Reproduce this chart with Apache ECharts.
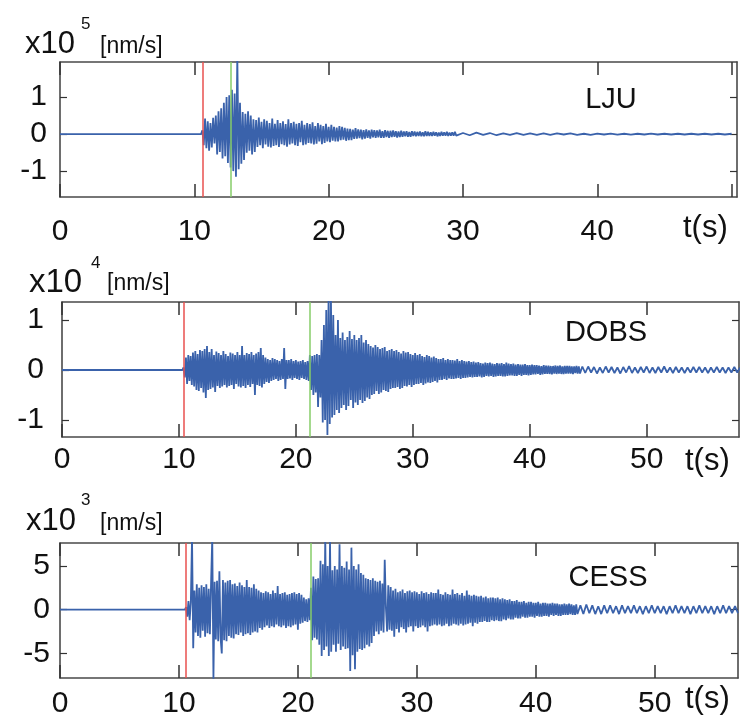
<!DOCTYPE html>
<html>
<head>
<meta charset="utf-8">
<title>LJU / DOBS / CESS velocity records</title>
<script src="https://cdn.jsdelivr.net/npm/echarts@6/dist/echarts.min.js"></script>
<style>
    html, body { margin: 0; background: #fff; }
    #chart { width: 740px; height: 720px; }
</style>
</head>
<body>
<div id="chart"></div>
<script>
/* stations, exponent of the y scale, picks (s) */
var stations = ['LJU', 'DOBS', 'CESS'];
var exponents = ['5', '4', '3'];
var redPicks = [10.63, 10.4, 10.55];
var greenPicks = [12.7, 21.2, 21.1];

/* tick values and tick labels */
var xTicks = [0, 10, 20, 30, 40, 50];
var xLabelsLju = [0, 10, 20, 30, 40];
var xLabels = [0, 10, 20, 30, 40, 50];
var yTicksLju = [-1, 0, 1];
var yTicksDobs = [-1, 0, 1];
var yTicksCess = [-5, 0, 5];

/* LJU, x10^5 nm/s: burst from 10.6 s every 0.1 s, tail from 30 s every 0.5 s */
var ljuOnset = 10.6, ljuStep = 0.1, ljuTailStart = 30, ljuTailStep = 0.5;
var ljuBurst = [
    0.1, -0.3, 0.42, -0.38, 0.35, -0.45, 0.3, -0.36, 0.44, -0.25,
    0.5, -0.55, 0.62, -0.48, 0.7, -0.66, 0.85, -0.6, 1.0, -0.78,
    1.05, -0.9, 1.2, -1.0, 1.1, -1.15, 2.1, -0.95, 0.85, -0.8,
    0.6, -0.7, 0.55, -0.5, 0.62, -0.45, 0.5, -0.55, 0.4, -0.48,
    0.38, -0.35, 0.45, -0.3, 0.33, -0.38, 0.4, -0.28, 0.36, -0.34,
    0.3, -0.36, 0.42, -0.32, 0.28, -0.3, 0.38, -0.35, 0.3, -0.27,
    0.35, -0.3, 0.27, -0.34, 0.4, -0.28, 0.3, -0.25, 0.33, -0.3,
    0.28, -0.32, 0.3, -0.22, 0.36, -0.3, 0.25, -0.28, 0.3, -0.24,
    0.27, -0.25, 0.32, -0.28, 0.22, -0.26, 0.3, -0.2, 0.25, -0.27,
    0.22, -0.24, 0.28, -0.2, 0.2, -0.22, 0.25, -0.18, 0.2, -0.2,
    0.18, -0.2, 0.22, -0.16, 0.2, -0.15, 0.17, -0.18, 0.15, -0.16,
    0.14, -0.16, 0.12, -0.13, 0.16, -0.12, 0.13, -0.11, 0.12, -0.14,
    0.11, -0.12, 0.13, -0.1, 0.1, -0.12, 0.12, -0.09, 0.11, -0.1,
    0.1, -0.09, 0.12, -0.1, 0.08, -0.1, 0.11, -0.08, 0.09, -0.1,
    0.09, -0.08, 0.1, -0.07, 0.08, -0.09, 0.07, -0.08, 0.09, -0.07,
    0.07, -0.06, 0.08, -0.07, 0.06, -0.07, 0.08, -0.05, 0.07, -0.06,
    0.06, -0.05, 0.07, -0.06, 0.05, -0.06, 0.08, -0.05, 0.06, -0.05,
    0.05, -0.05, 0.06, -0.04, 0.05, -0.06, 0.04, -0.05, 0.06, -0.04,
    0.05, -0.04, 0.06, -0.05, 0.04, -0.04, 0.05, -0.04, 0.06, -0.04
];
var ljuTail = [
    0.03, -0.03, 0.04, -0.02, 0.03, -0.03, 0.02, -0.02, 0.03, -0.02,
    0.02, -0.02, 0.02, -0.02, 0.02, -0.01, 0.02, -0.02, 0.01, -0.02,
    0.015, -0.01, 0.015, -0.015, 0.01, -0.015, 0.01, -0.01, 0.015, -0.01,
    0.01, -0.01, 0.01, -0.01, 0.01, -0.01, 0.01, -0.01, 0.01, -0.01,
    0.01
];

/* DOBS, x10^4 nm/s: burst from 10.4 s every 0.1 s, tail from 44.5 s every 0.25 s */
var dobsOnset = 10.4, dobsStep = 0.1, dobsTailStart = 44.5, dobsTailStep = 0.25;
var dobsBurst = [
    0.05, -0.15, 0.25, -0.28, 0.3, -0.22, 0.28, -0.3, 0.35, -0.33,
    0.38, -0.4, 0.32, -0.42, 0.4, -0.36, 0.38, -0.45, 0.42, -0.56,
    0.48, -0.4, 0.36, -0.38, 0.42, -0.35, 0.3, -0.44, 0.37, -0.32,
    0.34, -0.36, 0.3, -0.33, 0.38, -0.3, 0.32, -0.35, 0.28, -0.32,
    0.35, -0.3, 0.33, -0.38, 0.3, -0.28, 0.36, -0.33, 0.3, -0.35,
    0.48, -0.32, 0.3, -0.36, 0.34, -0.3, 0.32, -0.34, 0.36, -0.28,
    0.3, -0.5, 0.33, -0.3, 0.36, -0.32, 0.44, -0.35, 0.3, -0.28,
    0.25, -0.24, 0.22, -0.26, 0.2, -0.22, 0.24, -0.2, 0.22, -0.18,
    0.2, -0.22, 0.18, -0.2, 0.22, -0.18, 0.44, -0.38, 0.2, -0.18,
    0.2, -0.17, 0.22, -0.2, 0.18, -0.16, 0.2, -0.18, 0.17, -0.2,
    0.18, -0.16, 0.2, -0.18, 0.16, -0.2, 0.18, -0.22, 0.3, -0.4,
    0.28, -0.5, 0.3, -0.45, 0.32, -0.74, 0.3, -0.55, 0.6, -1.05,
    0.9, -1.0, 1.2, -1.3, 1.5, -1.08, 1.45, -0.95, 1.1, -0.9,
    0.7, -0.8, 1.0, -0.86, 0.64, -0.76, 0.75, -0.7, 0.6, -0.8,
    0.66, -0.72, 0.78, -0.6, 0.62, -0.76, 0.7, -0.65, 0.6, -0.7,
    0.64, -0.6, 0.7, -0.66, 0.55, -0.62, 0.6, -0.55, 0.52, -0.58,
    0.48, -0.5, 0.45, -0.48, 0.5, -0.42, 0.46, -0.48, 0.42, -0.45,
    0.44, -0.4, 0.46, -0.42, 0.38, -0.44, 0.4, -0.38, 0.42, -0.36,
    0.38, -0.36, 0.4, -0.34, 0.36, -0.38, 0.33, -0.36, 0.38, -0.32,
    0.35, -0.33, 0.36, -0.3, 0.32, -0.34, 0.3, -0.3, 0.34, -0.28,
    0.3, -0.28, 0.32, -0.26, 0.28, -0.3, 0.26, -0.27, 0.3, -0.25,
    0.28, -0.26, 0.25, -0.24, 0.27, -0.22, 0.24, -0.25, 0.22, -0.2,
    0.22, -0.2, 0.24, -0.18, 0.2, -0.2, 0.22, -0.17, 0.2, -0.18,
    0.2, -0.18, 0.19, -0.17, 0.22, -0.16, 0.18, -0.18, 0.2, -0.16,
    0.18, -0.16, 0.17, -0.15, 0.18, -0.14, 0.16, -0.15, 0.17, -0.14,
    0.15, -0.14, 0.16, -0.13, 0.14, -0.15, 0.13, -0.14, 0.15, -0.12,
    0.14, -0.13, 0.15, -0.12, 0.13, -0.14, 0.12, -0.13, 0.14, -0.12,
    0.13, -0.12, 0.14, -0.13, 0.12, -0.13, 0.15, -0.12, 0.13, -0.11,
    0.12, -0.11, 0.13, -0.12, 0.11, -0.12, 0.12, -0.1, 0.11, -0.12,
    0.11, -0.1, 0.12, -0.1, 0.1, -0.11, 0.1, -0.1, 0.11, -0.09,
    0.1, -0.09, 0.1, -0.08, 0.09, -0.1, 0.08, -0.09, 0.1, -0.08,
    0.09, -0.08, 0.09, -0.08, 0.08, -0.09, 0.08, -0.07, 0.09, -0.08,
    0.08, -0.07, 0.09, -0.08, 0.07, -0.08, 0.08, -0.07, 0.08, -0.07,
    0.08, -0.07, 0.07, -0.08, 0.07, -0.06, 0.08, -0.07, 0.07, -0.07
];
var dobsTail = [
    0.07, -0.06, 0.07, -0.05, 0.06, -0.07, 0.05, -0.06, 0.07, -0.05,
    0.06, -0.06, 0.05, -0.07, 0.06, -0.05, 0.08, -0.06, 0.05, -0.06,
    0.06, -0.05, 0.07, -0.06, 0.05, -0.06, 0.06, -0.05, 0.07, -0.05,
    0.05, -0.06, 0.06, -0.05, 0.05, -0.06, 0.05, -0.05, 0.06, -0.05,
    0.06, -0.05, 0.05, -0.06, 0.05, -0.05, 0.06, -0.05, 0.05, -0.06,
    0.05, -0.05, 0.06, -0.05, 0.05
];

/* CESS, x10^3 nm/s: burst from 10.6 s every 0.1 s, tail from 43.75 s every 0.25 s */
var cessOnset = 10.6, cessStep = 0.1, cessTailStart = 43.75, cessTailStep = 0.25;
var cessBurst = [
    0.3, -0.8, 1.0, -1.2, 0.9, 8.2, -4.4, 2.2, -2.6, 2.9,
    -3.0, 2.5, -3.2, 2.8, -2.4, 2.6, -3.1, 2.9, -2.7, 2.4,
    -2.8, 3.0, 8.2, -7.9, 3.2, -3.4, 3.3, -3.6, 4.4, -3.2,
    -5.0, 3.4, -3.5, 3.1, -3.6, 3.3, -3.0, 3.4, -3.2, 2.9,
    -3.3, 3.0, -2.8, 2.7, -2.9, 3.1, -2.6, 2.8, -3.0, 2.6,
    -2.8, 3.4, -2.7, 2.6, -2.9, 2.5, -2.6, 2.9, -2.5, 2.4,
    -2.6, 2.2, -2.1, 2.0, -2.3, 1.9, -2.0, 2.1, -1.8, 2.0,
    -2.1, 1.8, -1.9, 2.2, -2.0, 1.9, -1.7, 2.7, -1.9, 1.8,
    -2.0, 1.9, -1.8, 2.0, -2.1, 1.7, -1.9, 1.8, -2.0, 1.9,
    -1.8, 2.0, -1.7, 1.8, -2.3, 1.9, -1.6, 1.7, -1.5, 1.4,
    -1.3, 1.2, -1.4, 1.3, -1.2, 2.5, -3.5, 3.8, -3.2, 3.5,
    -3.4, 3.6, -4.0, 5.6, -5.3, 5.2, -4.6, 8.2, -4.2, 5.0,
    -5.3, 7.8, -4.8, 4.5, -4.0, 5.0, -4.8, 4.6, -3.9, 7.5,
    -4.6, 5.0, -4.2, 4.8, -4.5, 5.5, -4.4, 4.6, -7.0, 7.1,
    -5.2, 5.0, -6.8, 4.6, -4.8, 5.2, -4.5, 4.2, -4.6, 4.0,
    -4.4, 3.6, -4.0, 3.5, -4.2, 3.4, -3.8, 3.6, -3.0, 3.3,
    -2.5, 3.2, -2.8, 3.3, -2.4, 3.0, -2.6, 5.7, 0.2, -2.5,
    2.8, -2.3, 2.6, -2.4, 2.2, -3.1, 2.4, -2.2, 2.0, -2.6,
    2.1, -2.0, 2.3, -2.2, 1.9, -2.6, 2.1, -2.0, 2.2, -1.9,
    2.0, -2.5, 2.1, -1.9, 2.0, -2.1, 1.8, -2.0, 2.1, -1.8,
    1.9, -2.0, 2.0, -2.5, 1.8, -1.9, 2.0, -1.8, 1.9, -1.7,
    1.9, -1.8, 2.3, -1.7, 1.8, -1.9, 1.7, -1.8, 2.0, -1.6,
    1.8, -1.9, 1.7, -1.8, 2.3, -1.6, 1.8, -1.7, 1.9, -1.8,
    1.7, -1.6, 1.9, -1.8, 1.6, -1.7, 2.2, -1.6, 1.7, -1.5,
    1.6, -1.9, 1.7, -1.5, 1.6, -1.6, 1.5, -1.4, 1.6, -1.4,
    1.4, -1.3, 1.5, -1.4, 1.3, -1.4, 1.4, -1.2, 1.4, -1.3,
    1.3, -1.2, 1.4, -1.3, 1.2, -1.3, 1.3, -1.1, 1.2, -1.2,
    1.1, -1.0, 1.2, -1.1, 1.0, -1.1, 1.0, -0.9, 1.1, -1.0,
    0.9, -1.0, 0.9, -0.8, 1.0, -0.9, 0.8, -0.9, 0.9, -0.8,
    0.9, -0.8, 0.8, -0.9, 0.8, -0.7, 0.9, -0.8, 0.7, -0.8,
    0.8, -0.7, 0.8, -0.7, 0.7, -0.8, 0.7, -0.6, 0.8, -0.7,
    0.7, -0.6, 0.7, -0.7, 0.6, -0.7, 0.6, -0.6, 0.7, -0.6,
    0.6, -0.6, 0.7, -0.5, 0.6, -0.6, 0.5, -0.6, 0.6, -0.5
];
var cessTail = [
    0.5, -0.5, 0.6, -0.4, 0.5, -0.5, 0.4, -0.5, 0.5, -0.4,
    0.5, -0.4, 0.4, -0.5, 0.5, -0.4, 0.4, -0.4, 0.5, -0.4,
    0.4, -0.5, 0.4, -0.4, 0.5, -0.4, 0.4, -0.4, 0.4, -0.5,
    0.4, -0.4, 0.5, -0.4, 0.4, -0.4, 0.4, -0.5, 0.4, -0.4,
    0.5, -0.4, 0.4, -0.4, 0.4, -0.5, 0.4, -0.4, 0.5, -0.4,
    0.4, -0.4, 0.4, -0.4
];

var FONT = '"Liberation Sans", Arial, Helvetica, sans-serif';
var TRACE = '#3a62ab';
var BOX = '#4a4a4a';

/* turn the sample arrays into [t, v] points, flat before the onset */
var buildTrace = function (onset, burst, step, tailStart, tail, tailStep) {
    var pts = [[0, 0], [onset - step, 0]];
    burst.forEach(function (v, i) {
        pts.push([onset + i * step, v]);
    });
    tail.forEach(function (v, i) {
        pts.push([tailStart + i * tailStep, v]);
    });
    return pts;
};

var initChart = function () {
    var traces = [
        buildTrace(ljuOnset, ljuBurst, ljuStep, ljuTailStart, ljuTail, ljuTailStep),
        buildTrace(dobsOnset, dobsBurst, dobsStep, dobsTailStart, dobsTail, dobsTailStep),
        buildTrace(cessOnset, cessBurst, cessStep, cessTailStart, cessTail, cessTailStep)
    ];
    var xLabelSets = [xLabelsLju, xLabels, xLabels];
    var yTickSets = [yTicksLju, yTicksDobs, yTicksCess];

    /* panel boxes and axis ranges */
    var layout = [
        {top: 62, left: 60, right: 3, xMax: 50.4, yMin: -1.7, yMax: 1.95, xMargin: 20, yMargin: 13},
        {top: 302, left: 62, right: 1, xMax: 57.9, yMin: -1.34, yMax: 1.36, xMargin: 8, yMargin: 18},
        {top: 543, left: 60, right: 2, xMax: 57.0, yMin: -7.81, yMax: 7.63, xMargin: 11, yMargin: 10}
    ];
    /* title pieces: x10 (with font size), exponent, unit, station, t(s) */
    var textPos = [
        {x10: [25, 44], x10Size: 31, exp: [81, 24], unit: [100, 47], sta: [611, 100], ts: [683, 228]},
        {x10: [29, 283], x10Size: 33, exp: [91, 263], unit: [107, 284], sta: [606, 333], ts: [685, 461]},
        {x10: [26, 521], x10Size: 31, exp: [81, 500], unit: [100, 524], sta: [608, 578], ts: [685, 699]}
    ];

    var grid = [], xAxis = [], yAxis = [], series = [], graphic = [];
    var lineAxis = {show: true, onZero: false, lineStyle: {color: BOX, width: 1.6}};

    layout.forEach(function (L, k) {
        grid.push({top: L.top, left: L.left, right: L.right, height: 135, outerBoundsMode: 'none'});
        xAxis.push({
            type: 'value', gridIndex: k, position: 'bottom', min: 0, max: L.xMax,
            axisLine: lineAxis,
            axisTick: {show: true, inside: true, length: 13, customValues: xTicks, lineStyle: {color: '#333', width: 1.5}},
            axisLabel: {show: true, customValues: xLabelSets[k], margin: L.xMargin, fontSize: 30, fontFamily: FONT, color: '#111'},
            splitLine: {show: false}
        });
        xAxis.push({
            type: 'value', gridIndex: k, position: 'top', min: 0, max: L.xMax,
            axisLine: lineAxis,
            axisTick: {show: true, inside: true, length: 13, customValues: xTicks, lineStyle: {color: '#333', width: 1.5}},
            axisLabel: {show: false},
            splitLine: {show: false}
        });
        yAxis.push({
            type: 'value', gridIndex: k, position: 'left', min: L.yMin, max: L.yMax,
            axisLine: lineAxis,
            axisTick: {show: true, inside: true, length: 7, customValues: yTickSets[k], lineStyle: {color: '#333', width: 1.2}},
            axisLabel: {show: true, customValues: yTickSets[k], margin: L.yMargin, fontSize: 30, fontFamily: FONT, color: '#111'},
            splitLine: {show: false}
        });
        yAxis.push({
            type: 'value', gridIndex: k, position: 'right', min: L.yMin, max: L.yMax,
            axisLine: lineAxis,
            axisTick: {show: true, inside: true, length: 7, customValues: yTickSets[k], lineStyle: {color: '#333', width: 1.2}},
            axisLabel: {show: false},
            splitLine: {show: false}
        });

        series.push({
            name: stations[k],
            type: 'line',
            xAxisIndex: 2 * k,
            yAxisIndex: 2 * k,
            data: traces[k],
            showSymbol: false,
            symbol: 'none',
            sampling: null,
            clip: true,
            lineStyle: {color: TRACE, width: 1.8},
            z: 2
        });
        /* P (red) and S (green) picks */
        series.push({
            type: 'line',
            xAxisIndex: 2 * k,
            yAxisIndex: 2 * k,
            data: [],
            z: 5,
            markLine: {
                silent: true,
                symbol: ['none', 'none'],
                label: {show: false},
                data: [
                    {xAxis: redPicks[k], lineStyle: {color: '#e8504f', width: 1.5, type: 'solid'}},
                    {xAxis: greenPicks[k], lineStyle: {color: '#86cc68', width: 1.5, type: 'solid'}}
                ]
            }
        });

        var P = textPos[k];
        graphic.push(
            {type: 'text', x: P.x10[0], y: P.x10[1], style: {text: 'x10', font: P.x10Size + 'px ' + FONT, fill: '#111', verticalAlign: 'middle'}},
            {type: 'text', x: P.exp[0], y: P.exp[1], style: {text: exponents[k], font: '17px ' + FONT, fill: '#111', verticalAlign: 'middle'}},
            {type: 'text', x: P.unit[0], y: P.unit[1], style: {text: '[nm/s]', font: '23px ' + FONT, fill: '#111', verticalAlign: 'middle'}},
            {type: 'text', x: P.sta[0], y: P.sta[1], style: {text: stations[k], font: '29px ' + FONT, fill: '#111', align: 'center', verticalAlign: 'middle'}},
            {type: 'text', x: P.ts[0], y: P.ts[1], style: {text: 't(s)', font: '31px ' + FONT, fill: '#111', verticalAlign: 'middle'}}
        );
    });

    var myChart = echarts.init(document.getElementById('chart'), null, {renderer: 'canvas'});
    myChart.setOption({
        animation: false,
        backgroundColor: '#fff',
        grid: grid,
        xAxis: xAxis,
        yAxis: yAxis,
        series: series,
        graphic: graphic
    });
};

initChart();
</script>
</body>
</html>
